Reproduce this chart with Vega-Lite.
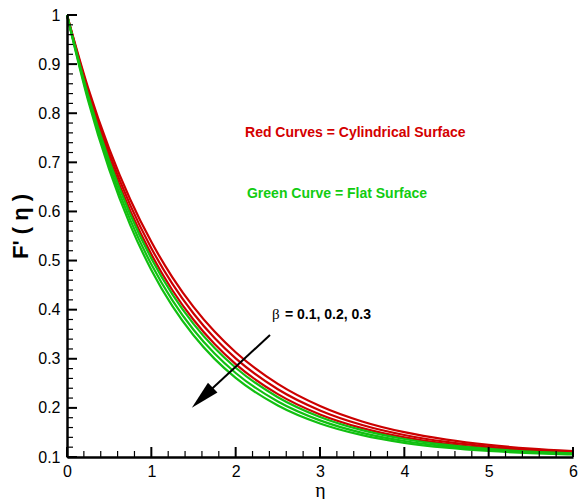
{
  "$schema": "https://vega.github.io/schema/vega-lite/v6.json",
  "width": 506,
  "height": 442,
  "autosize": {"type": "none"},
  "padding": {"left": 67, "top": 15, "right": 6, "bottom": 42},
  "background": "white",
  "config": {"view": {"stroke": null}, "font": "Liberation Sans", "axis": {"grid": false}},
  "datasets": {
    "curves": [
      {"eta": 0, "F": 1, "series": "r1"}, {"eta": 0.25, "F": 0.8518, "series": "r1"}, {"eta": 0.5, "F": 0.7279, "series": "r1"}, {"eta": 0.75, "F": 0.6244, "series": "r1"}, {"eta": 1, "F": 0.5381, "series": "r1"}, {"eta": 1.25, "F": 0.4659, "series": "r1"}, {"eta": 1.5, "F": 0.4056, "series": "r1"}, {"eta": 1.75, "F": 0.3553, "series": "r1"}, {"eta": 2, "F": 0.3132, "series": "r1"}, {"eta": 2.5, "F": 0.2488, "series": "r1"}, {"eta": 3, "F": 0.2038, "series": "r1"}, {"eta": 3.5, "F": 0.1724, "series": "r1"}, {"eta": 4, "F": 0.1505, "series": "r1"}, {"eta": 4.5, "F": 0.1353, "series": "r1"}, {"eta": 5, "F": 0.1246, "series": "r1"}, {"eta": 5.5, "F": 0.1172, "series": "r1"}, {"eta": 6, "F": 0.112, "series": "r1"},
      {"eta": 0, "F": 1, "series": "r2"}, {"eta": 0.25, "F": 0.8461, "series": "r2"}, {"eta": 0.5, "F": 0.7186, "series": "r2"}, {"eta": 0.75, "F": 0.6128, "series": "r2"}, {"eta": 1, "F": 0.5251, "series": "r2"}, {"eta": 1.25, "F": 0.4525, "series": "r2"}, {"eta": 1.5, "F": 0.3922, "series": "r2"}, {"eta": 1.75, "F": 0.3422, "series": "r2"}, {"eta": 2, "F": 0.3008, "series": "r2"}, {"eta": 2.5, "F": 0.238, "series": "r2"}, {"eta": 3, "F": 0.1949, "series": "r2"}, {"eta": 3.5, "F": 0.1652, "series": "r2"}, {"eta": 4, "F": 0.1448, "series": "r2"}, {"eta": 4.5, "F": 0.1308, "series": "r2"}, {"eta": 5, "F": 0.1212, "series": "r2"}, {"eta": 5.5, "F": 0.1146, "series": "r2"}, {"eta": 6, "F": 0.11, "series": "r2"},
      {"eta": 0, "F": 1, "series": "r3"}, {"eta": 0.25, "F": 0.8405, "series": "r3"}, {"eta": 0.5, "F": 0.7094, "series": "r3"}, {"eta": 0.75, "F": 0.6014, "series": "r3"}, {"eta": 1, "F": 0.5126, "series": "r3"}, {"eta": 1.25, "F": 0.4395, "series": "r3"}, {"eta": 1.5, "F": 0.3794, "series": "r3"}, {"eta": 1.75, "F": 0.3299, "series": "r3"}, {"eta": 2, "F": 0.2891, "series": "r3"}, {"eta": 2.5, "F": 0.2281, "series": "r3"}, {"eta": 3, "F": 0.1867, "series": "r3"}, {"eta": 3.5, "F": 0.1587, "series": "r3"}, {"eta": 4, "F": 0.1398, "series": "r3"}, {"eta": 4.5, "F": 0.1269, "series": "r3"}, {"eta": 5, "F": 0.1182, "series": "r3"}, {"eta": 5.5, "F": 0.1123, "series": "r3"}, {"eta": 6, "F": 0.1084, "series": "r3"},
      {"eta": 0, "F": 1, "series": "g1"}, {"eta": 0.25, "F": 0.8368, "series": "g1"}, {"eta": 0.5, "F": 0.7033, "series": "g1"}, {"eta": 0.75, "F": 0.5939, "series": "g1"}, {"eta": 1, "F": 0.5044, "series": "g1"}, {"eta": 1.25, "F": 0.4311, "series": "g1"}, {"eta": 1.5, "F": 0.3711, "series": "g1"}, {"eta": 1.75, "F": 0.3219, "series": "g1"}, {"eta": 2, "F": 0.2817, "series": "g1"}, {"eta": 2.5, "F": 0.2218, "series": "g1"}, {"eta": 3, "F": 0.1816, "series": "g1"}, {"eta": 3.5, "F": 0.1547, "series": "g1"}, {"eta": 4, "F": 0.1367, "series": "g1"}, {"eta": 4.5, "F": 0.1246, "series": "g1"}, {"eta": 5, "F": 0.1165, "series": "g1"}, {"eta": 5.5, "F": 0.1111, "series": "g1"}, {"eta": 6, "F": 0.1074, "series": "g1"},
      {"eta": 0, "F": 1, "series": "g2"}, {"eta": 0.25, "F": 0.8313, "series": "g2"}, {"eta": 0.5, "F": 0.6944, "series": "g2"}, {"eta": 0.75, "F": 0.5829, "series": "g2"}, {"eta": 1, "F": 0.4924, "series": "g2"}, {"eta": 1.25, "F": 0.4189, "series": "g2"}, {"eta": 1.5, "F": 0.3591, "series": "g2"}, {"eta": 1.75, "F": 0.3106, "series": "g2"}, {"eta": 2, "F": 0.2711, "series": "g2"}, {"eta": 2.5, "F": 0.213, "series": "g2"}, {"eta": 3, "F": 0.1746, "series": "g2"}, {"eta": 3.5, "F": 0.1492, "series": "g2"}, {"eta": 4, "F": 0.1326, "series": "g2"}, {"eta": 4.5, "F": 0.1215, "series": "g2"}, {"eta": 5, "F": 0.1142, "series": "g2"}, {"eta": 5.5, "F": 0.1094, "series": "g2"}, {"eta": 6, "F": 0.1062, "series": "g2"},
      {"eta": 0, "F": 1, "series": "g3"}, {"eta": 0.25, "F": 0.8259, "series": "g3"}, {"eta": 0.5, "F": 0.6855, "series": "g3"}, {"eta": 0.75, "F": 0.5722, "series": "g3"}, {"eta": 1, "F": 0.4809, "series": "g3"}, {"eta": 1.25, "F": 0.4072, "series": "g3"}, {"eta": 1.5, "F": 0.3478, "series": "g3"}, {"eta": 1.75, "F": 0.2998, "series": "g3"}, {"eta": 2, "F": 0.2612, "series": "g3"}, {"eta": 2.5, "F": 0.2049, "series": "g3"}, {"eta": 3, "F": 0.1682, "series": "g3"}, {"eta": 3.5, "F": 0.1444, "series": "g3"}, {"eta": 4, "F": 0.1289, "series": "g3"}, {"eta": 4.5, "F": 0.1188, "series": "g3"}, {"eta": 5, "F": 0.1122, "series": "g3"}, {"eta": 5.5, "F": 0.1079, "series": "g3"}, {"eta": 6, "F": 0.1051, "series": "g3"}
    ],
    "xMajor": [{"t": 0}, {"t": 1}, {"t": 2}, {"t": 3}, {"t": 4}, {"t": 5}, {"t": 6}],
    "xMinor": [{"t": 0.2}, {"t": 0.4}, {"t": 0.6}, {"t": 0.8}, {"t": 1.2}, {"t": 1.4}, {"t": 1.6}, {"t": 1.8}, {"t": 2.2}, {"t": 2.4}, {"t": 2.6}, {"t": 2.8}, {"t": 3.2}, {"t": 3.4}, {"t": 3.6}, {"t": 3.8}, {"t": 4.2}, {"t": 4.4}, {"t": 4.6}, {"t": 4.8}, {"t": 5.2}, {"t": 5.4}, {"t": 5.6}, {"t": 5.8}],
    "yMajor": [{"v": 0.1}, {"v": 0.2}, {"v": 0.3}, {"v": 0.4}, {"v": 0.5}, {"v": 0.6}, {"v": 0.7}, {"v": 0.8}, {"v": 0.9}, {"v": 1}],
    "yMinor": [{"v": 0.12}, {"v": 0.14}, {"v": 0.16}, {"v": 0.18}, {"v": 0.22}, {"v": 0.24}, {"v": 0.26}, {"v": 0.28}, {"v": 0.32}, {"v": 0.34}, {"v": 0.36}, {"v": 0.38}, {"v": 0.42}, {"v": 0.44}, {"v": 0.46}, {"v": 0.48}, {"v": 0.52}, {"v": 0.54}, {"v": 0.56}, {"v": 0.58}, {"v": 0.62}, {"v": 0.64}, {"v": 0.66}, {"v": 0.68}, {"v": 0.72}, {"v": 0.74}, {"v": 0.76}, {"v": 0.78}, {"v": 0.82}, {"v": 0.84}, {"v": 0.86}, {"v": 0.88}, {"v": 0.92}, {"v": 0.94}, {"v": 0.96}, {"v": 0.98}]
  },
  "layer": [
    {
      "data": {"name": "curves"},
      "mark": {"type": "line", "strokeWidth": 2.2, "interpolate": "monotone"},
      "encoding": {
        "x": {"field": "eta", "type": "quantitative",
          "scale": {"domain": [0, 6], "nice": false, "zero": false},
          "axis": {"orient": "bottom", "zindex": 1, "values": [0, 1, 2, 3, 4, 5, 6], "format": "d", "ticks": false, "domainColor": "black", "domainWidth": 2.5, "labelPadding": 6, "labelFontSize": 16, "labelColor": "black", "labelFlush": false, "labelOverlap": false, "title": "η", "titleFontSize": 20, "titleFontWeight": "normal", "titleFont": "Liberation Serif", "titleColor": "black", "titlePadding": 1}},
        "y": {"field": "F", "type": "quantitative",
          "scale": {"domain": [0.1, 1], "nice": false, "zero": false},
          "axis": {"orient": "left", "zindex": 1, "values": [0.1, 0.2, 0.3, 0.4, 0.5, 0.6, 0.7, 0.8, 0.9, 1], "format": ".1~f", "ticks": false, "domainColor": "black", "domainWidth": 2.5, "labelPadding": 7, "labelFontSize": 16, "labelColor": "black", "labelFlush": false, "labelOverlap": false, "title": "F' ( η )", "titleFontSize": 22, "titleFontWeight": "bold", "titleColor": "black", "titleX": -35, "titleY": 211}},
        "color": {"field": "series", "type": "nominal",
          "scale": {"domain": ["r1", "r2", "r3", "g1", "g2", "g3"], "range": ["#cc0000", "#cc0000", "#cc0000", "#11c011", "#11c011", "#11c011"]},
          "legend": null}
      }
    },
    {
      "data": {"name": "xMajor"},
      "mark": {"type": "rule", "strokeWidth": 2, "color": "black"},
      "encoding": {
        "x": {"field": "t", "type": "quantitative"},
        "y": {"datum": 0.1, "type": "quantitative"},
        "y2": {"datum": 0.1204}
      }
    },
    {
      "data": {"name": "xMinor"},
      "mark": {"type": "rule", "strokeWidth": 1.2, "color": "black"},
      "encoding": {
        "x": {"field": "t", "type": "quantitative"},
        "y": {"datum": 0.1, "type": "quantitative"},
        "y2": {"datum": 0.1122}
      }
    },
    {
      "data": {"name": "yMajor"},
      "mark": {"type": "rule", "strokeWidth": 2, "color": "black"},
      "encoding": {
        "y": {"field": "v", "type": "quantitative"},
        "x": {"datum": 0, "type": "quantitative"},
        "x2": {"datum": 0.1186}
      }
    },
    {
      "data": {"name": "yMinor"},
      "mark": {"type": "rule", "strokeWidth": 1.2, "color": "black"},
      "encoding": {
        "y": {"field": "v", "type": "quantitative"},
        "x": {"datum": 0, "type": "quantitative"},
        "x2": {"datum": 0.0712}
      }
    },
    {
      "data": {"values": [{}]},
      "mark": {"type": "rule", "strokeWidth": 2, "color": "black"},
      "encoding": {
        "x": {"datum": 2.407, "type": "quantitative"},
        "y": {"datum": 0.3484, "type": "quantitative"},
        "x2": {"datum": 1.604},
        "y2": {"datum": 0.2207}
      }
    },
    {
      "data": {"values": [{}]},
      "mark": {"type": "point", "shape": "M0,-1L0.47,1L-0.47,1Z", "size": 841, "angle": 226, "filled": true, "color": "black", "opacity": 1, "strokeWidth": 0},
      "encoding": {
        "x": {"datum": 1.604, "type": "quantitative"},
        "y": {"datum": 0.2207, "type": "quantitative"}
      }
    },
    {
      "data": {"values": [{}]},
      "mark": {"type": "text", "text": "Red Curves = Cylindrical Surface", "align": "left", "baseline": "alphabetic", "fontSize": 14, "fontWeight": "bold", "color": "#d40000"},
      "encoding": {
        "x": {"datum": 2.111, "type": "quantitative"},
        "y": {"datum": 0.751, "type": "quantitative"}
      }
    },
    {
      "data": {"values": [{}]},
      "mark": {"type": "text", "text": "Green Curve = Flat Surface", "align": "left", "baseline": "alphabetic", "fontSize": 14, "fontWeight": "bold", "color": "#11cc11"},
      "encoding": {
        "x": {"datum": 2.134, "type": "quantitative"},
        "y": {"datum": 0.6268, "type": "quantitative"}
      }
    },
    {
      "data": {"values": [{}]},
      "mark": {"type": "text", "text": "β", "align": "left", "baseline": "alphabetic", "fontSize": 15, "font": "Liberation Serif", "color": "black"},
      "encoding": {
        "x": {"datum": 2.431, "type": "quantitative"},
        "y": {"datum": 0.381, "type": "quantitative"}
      }
    },
    {
      "data": {"values": [{}]},
      "mark": {"type": "text", "text": "= 0.1, 0.2, 0.3", "align": "left", "baseline": "alphabetic", "fontSize": 14, "fontWeight": "bold", "color": "black"},
      "encoding": {
        "x": {"datum": 2.585, "type": "quantitative"},
        "y": {"datum": 0.381, "type": "quantitative"}
      }
    }
  ]
}
